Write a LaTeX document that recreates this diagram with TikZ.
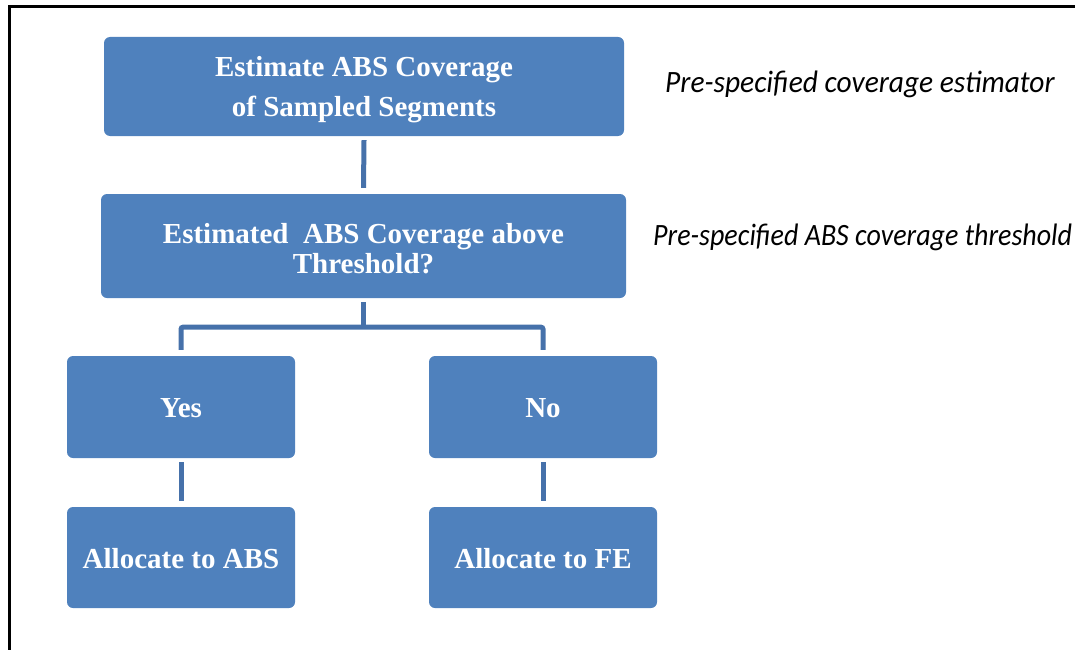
\documentclass[tikz,border=0pt]{standalone}
\usepackage{fontspec}
\setmainfont{Liberation Serif}
\newfontfamily\calibrifont{Carlito}
\definecolor{boxblue}{HTML}{4F81BD}
\definecolor{linkblue}{HTML}{4671AA}
\begin{document}
\begin{tikzpicture}[x=1pt,y=-1pt,
  box/.style={fill=boxblue, draw=none, rounded corners=6pt, inner sep=0pt},
  boxtext/.style={inner sep=0pt, text=white, align=center, font=\bfseries\fontsize{29}{40}\selectfont},
  conn/.style={draw=linkblue, line width=5pt},
  note/.style={anchor=base west, inner sep=0pt, font=\calibrifont\itshape\fontsize{29}{34}\selectfont},
  frame/.style={draw=black, line width=3pt}]
\useasboundingbox (0,0) rectangle (1075,650);
% frame
\coordinate (ftl) at (9,7);
\coordinate (ftr) at (1075,7);
\coordinate (fbl) at (9,650);
\draw[frame] (ftr) -- (ftl) -- (fbl);
% boxes
\node[box, minimum width=520pt, minimum height=99pt] (b1) at (364,86.5) {};
\node[box, minimum width=525pt, minimum height=104pt] (b2) at (363.5,246) {};
\node[box, minimum width=228pt, minimum height=102pt] (yes) at (181,407) {};
\node[box, minimum width=228pt, minimum height=102pt] (no) at (543,407) {};
\node[box, minimum width=228pt, minimum height=101pt] (aabs) at (181,557.5) {};
\node[box, minimum width=228pt, minimum height=101pt] (afe) at (543,557.5) {};
% box texts
\node[boxtext] (t1) at ([yshift=-3pt]b1.center) {Estimate ABS Coverage\\of Sampled Segments};
\node[boxtext, font=\bfseries\fontsize{29}{30}\selectfont] (t2) at ([yshift=-3pt]b2.center)
  {Estimated\ \ ABS Coverage above\\Threshold?};
\node[boxtext] (t3) at ([yshift=-1pt]yes.center) {Yes};
\node[boxtext] (t4) at ([yshift=-1pt]no.center) {No};
\node[boxtext] (t5) at ([yshift=-1pt]aabs.center) {Allocate to ABS};
\node[boxtext] (t6) at ([yshift=-1pt]afe.center) {Allocate to FE};
% notes
\node[note] (n1) at (665,93) {\scalebox{1.015}[1.07]{Pre-specified coverage estimator}};
\node[note] (n2) at (653,245) {\scalebox{0.965}[1.07]{Pre-specified ABS coverage threshold}};
% connectors
\draw[conn] ([yshift=-4pt]b1.south) -- ([yshift=6pt]b2.north);
\coordinate (j) at ([yshift=-29pt]b2.south);
\draw[conn] ([yshift=-4pt]b2.south) -- (j);
\draw[conn, rounded corners=2pt] ([yshift=6pt]yes.north) -- (yes.north |- j) -- (no.north |- j) -- ([yshift=6pt]no.north);
\draw[conn] ([yshift=-4pt]yes.south) -- ([yshift=6pt]aabs.north);
\draw[conn] ([yshift=-4pt]no.south) -- ([yshift=6pt]afe.north);
\end{tikzpicture}
\end{document}
